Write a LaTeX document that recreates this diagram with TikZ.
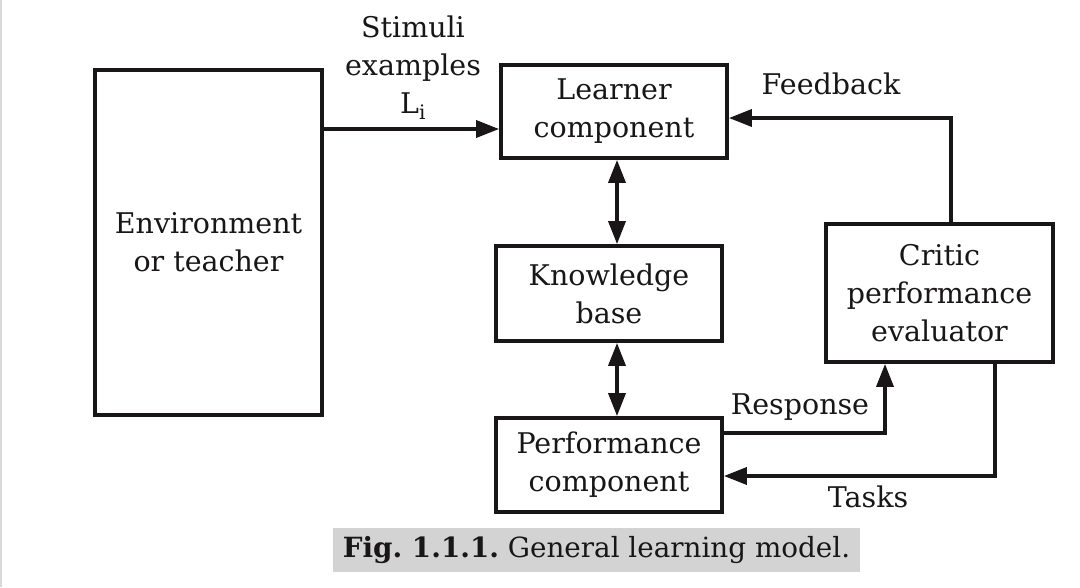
\documentclass[tikz,border=0pt]{standalone}
\usepackage{fontspec}
\setmainfont{DejaVu Serif}
\usetikzlibrary{arrows.meta}
\definecolor{capgray}{RGB}{211,211,211}
\definecolor{inkc}{RGB}{24,22,22}
\tikzset{
  box/.style={draw=inkc, line width=3.8pt, fill=white, align=center, inner sep=2pt, text=inkc},
  conn/.style={draw=inkc, line width=3.6pt},
  tip/.style={-{Triangle[length=23pt,width=17pt]}},
  dbl/.style={{Triangle[length=23pt,width=17pt]}-{Triangle[length=23pt,width=17pt]}},
  lbl/.style={align=center, inner sep=0pt, text=inkc},
}
\frenchspacing
\begin{document}
\begin{tikzpicture}[x=1pt, y=-1pt, font=\fontsize{28.5}{38}\selectfont]
\useasboundingbox[fill=white] (0,0) rectangle (1080,587);
\draw[line width=2pt, color=black!15] (1,0) -- (1,587);

\node[box, minimum width=227, minimum height=345] (env) at (208.5,242.5) {Environment\\or teacher};
\node[box, minimum width=226, minimum height=93] (learner) at (614,111.5) {Learner\\component};
\node[box, minimum width=226, minimum height=95] (kb) at (609,293.5) {Knowledge\\base};
\node[box, minimum width=226, minimum height=94] (perf) at (609,465) {Performance\\component};
\node[box, minimum width=227, minimum height=138] (critic) at (939.5,293) {Critic\\performance\\evaluator};

\coordinate (stimin) at ([yshift=-17.5pt]learner.west);
\draw[conn, tip] (env.east |- stimin) -- (stimin);
\draw[conn, dbl] ([xshift=3pt]learner.south) -- ([xshift=8pt]kb.north);
\draw[conn, dbl] ([xshift=8pt]kb.south) -- ([xshift=8pt]perf.north);
\draw[conn, tip] ([xshift=11.5pt]critic.north) |- ([yshift=-6.5pt]learner.east);
\draw[conn, tip] ([yshift=32pt]perf.east) -| ([xshift=-54.5pt]critic.south);
\draw[conn, tip] ([xshift=55.5pt]critic.south) |- ([yshift=-11pt]perf.east);

\node[lbl] (stim) at (413,68) {Stimuli\\examples\\L\textsubscript{i}};
\node[lbl] (fb) at (831,84) {Feedback};
\node[lbl] (resp) at (800,407) {Response};
\node[lbl] (tasks) at (868,497) {Tasks};

\node[fill=capgray, minimum width=527, minimum height=44, inner sep=0pt, text=inkc, font=\fontsize{27.8}{38}\selectfont] (cap) at (596.5,550) {\textbf{Fig. 1.1.1.} General learning model.};
\end{tikzpicture}
\end{document}
